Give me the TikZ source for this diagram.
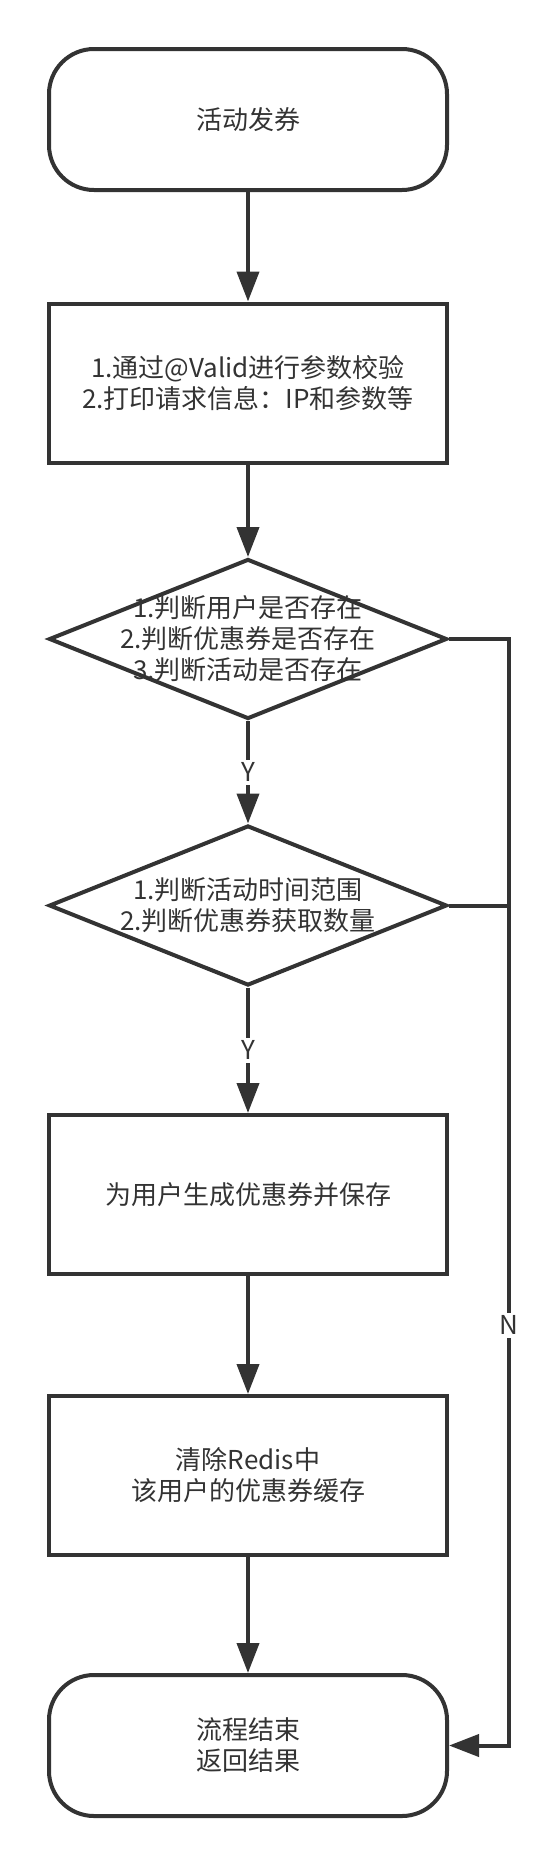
\documentclass[tikz,border=0pt]{standalone}
\usepackage{fontspec}
\newfontfamily\cjk{Noto Sans CJK SC}
\usetikzlibrary{shapes.geometric,arrows.meta}
\definecolor{ink}{HTML}{333333}
\tikzset{
  txt/.style={text=ink, font=\cjk\fontsize{26}{31}\selectfont, align=center},
  base/.style={txt, draw=ink, line width=4pt, minimum width=398pt, inner sep=0pt},
  term/.style={base, rounded corners=45pt, minimum height=141pt},
  proc/.style={base, minimum height=159pt},
  dec/.style={base, diamond, minimum height=160pt},
  link/.style={draw=ink, line width=4pt},
  flow/.style={link, -{Triangle[length=30pt,width=22pt]}},
  lbl/.style={txt, fill=white, inner sep=3pt}
}
\begin{document}
\begin{tikzpicture}[x=1pt,y=-1pt]
    \useasboundingbox (0,0) rectangle (558,1866);
    \node[term] (start) at (248,119.5) {活动发券};
    \node[proc] (check) at (248,383) {1.通过@Valid进行参数校验\\2.打印请求信息：IP和参数等};
    \node[dec, label={[txt]center:1.判断用户是否存在\\2.判断优惠券是否存在\\3.判断活动是否存在}] (exist) at (248,639) {};
    \node[dec, label={[txt]center:1.判断活动时间范围\\2.判断优惠券获取数量}] (limit) at (248,905.5) {};
    \node[proc] (save) at (248,1194.5) {为用户生成优惠券并保存};
    \node[proc] (clear) at (248,1475.5) {清除Redis中\\该用户的优惠券缓存};
    \node[term] (done) at (248,1745.5) {流程结束\\返回结果};
    \coordinate (nx) at (509,0);
    \draw[flow] (start) -- (check);
    \draw[flow] (check) -- (exist);
    \draw[flow] (exist) -- node[lbl] {Y} (limit);
    \draw[flow] (limit) -- node[lbl] {Y} (save);
    \draw[flow] (save) -- (clear);
    \draw[flow] (clear) -- (done);
    \draw[flow] (exist.east) -- (exist.east -| nx) -- (done.east -| nx) node[lbl,pos=0.62] {N} -- (done.east);
    \draw[link] (limit.east) -- (limit.east -| nx);
\end{tikzpicture}
\end{document}
